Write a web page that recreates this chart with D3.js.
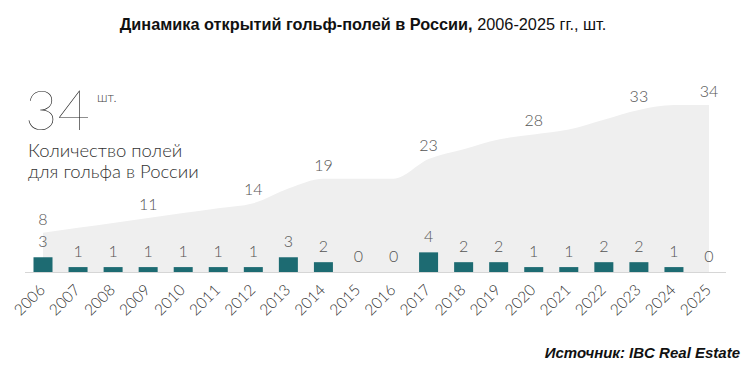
<!DOCTYPE html>
<html>
<head>
<meta charset="utf-8">
<script src="https://cdn.jsdelivr.net/npm/d3@7"></script>
<style>
  body { margin: 0; background: #fff; }
  svg text { font-family: "Lato", "Open Sans", sans-serif; }
</style>
</head>
<body>
<div id="chart"></div>
<script>
// data
const years = ["2006","2007","2008","2009","2010","2011","2012","2013","2014","2015",
               "2016","2017","2018","2019","2020","2021","2022","2023","2024","2025"];
const opened = [3,1,1,1,1,1,1,3,2,0,0,4,2,2,1,1,2,2,1,0];
const total = [8,9,10,11,12,13,14,17,19,19,19,23,25,27,28,29,31,33,34,34];
const totalLabelYears = ["2006","2009","2012","2014","2017","2020","2023","2025"];

const width = 743, height = 371;
const axisY = 272;

const svg = d3.select("#chart")
    .append("svg")
    .attr("width", width)
    .attr("height", height);

const x = d3.scalePoint()
    .domain(years)
    .range([43, 709]);

const y = d3.scaleLinear()
    .domain([0, 34])
    .range([axisY, 105]);

const barW = 19;

// Title
const title = svg.append("text")
    .attr("x", 363)
    .attr("y", 30)
    .attr("text-anchor", "middle")
    .style("font-family", "'Liberation Sans', Arial, sans-serif")
    .style("font-size", "16.3px")
    .attr("fill", "#111");
title.append("tspan").style("font-weight", "bold").text("Динамика открытий гольф-полей в России,");
title.append("tspan").text(" 2006-2025 гг., шт.");

// cumulative area
const areaData = years.map((yr, i) => ({ year: yr, v: total[i] }));
svg.append("path")
    .datum(areaData)
    .attr("fill", "#efefef")
    .attr("d", d3.area()
        .x(d => x(d.year))
        .y0(axisY)
        .y1(d => y(d.v))
        .curve(d3.curveMonotoneX));

// baseline
svg.append("line")
    .attr("x1", 25).attr("x2", 726)
    .attr("y1", axisY + 0.5).attr("y2", axisY + 0.5)
    .attr("stroke", "#d6d6d6");

// cumulative labels
svg.selectAll(".tot-label")
    .data(areaData.filter(d => totalLabelYears.includes(d.year)))
    .enter()
    .append("text")
    .attr("class", "tot-label")
    .attr("x", d => x(d.year))
    .attr("y", d => y(d.v) - 8)
    .attr("text-anchor", "middle")
    .style("font-size", "16px")
    .style("font-weight", 300)
    .attr("fill", "#555")
    .text(d => d.v);

// bars
const barData = years.map((yr, i) => ({ year: yr, v: opened[i] }));
svg.selectAll(".bar")
    .data(barData)
    .enter()
    .append("rect")
    .attr("class", "bar")
    .attr("x", d => x(d.year) - barW / 2)
    .attr("y", d => y(d.v))
    .attr("width", barW)
    .attr("height", d => axisY - y(d.v))
    .attr("fill", "#1d6b72");

svg.selectAll(".bar-label")
    .data(barData)
    .enter()
    .append("text")
    .attr("class", "bar-label")
    .attr("x", d => x(d.year))
    .attr("y", d => y(d.v) - 10)
    .attr("text-anchor", "middle")
    .style("font-size", "16px")
    .style("font-weight", 300)
    .attr("fill", "#555")
    .text(d => d.v);

// year labels
svg.selectAll(".year")
    .data(years)
    .enter()
    .append("text")
    .attr("class", "year")
    .attr("transform", d => `translate(${x(d) + 3},291)rotate(-45)`)
    .attr("text-anchor", "end")
    .style("font-size", "15.5px")
    .style("font-weight", 300)
    .attr("fill", "#333")
    .text(d => d);

// big number
svg.append("text")
    .attr("x", 25)
    .attr("y", 130)
    .style("font-size", "56px")
    .style("font-weight", 200)
    .attr("fill", "#222")
    .text("34");
svg.append("text")
    .attr("x", 97)
    .attr("y", 102)
    .style("font-size", "13px")
    .style("font-weight", 300)
    .attr("fill", "#444")
    .text("шт.");

svg.append("text")
    .attr("x", 28)
    .attr("y", 157)
    .style("font-size", "18.5px")
    .style("font-weight", 300)
    .attr("fill", "#333")
    .text("Количество полей");
svg.append("text")
    .attr("x", 28)
    .attr("y", 178)
    .style("font-size", "18.5px")
    .style("font-weight", 300)
    .attr("fill", "#333")
    .text("для гольфа в России");

// source
svg.append("text")
    .attr("x", 740)
    .attr("y", 358)
    .attr("text-anchor", "end")
    .style("font-family", "'Liberation Sans', Arial, sans-serif")
    .style("font-size", "15px")
    .style("font-weight", "bold")
    .style("font-style", "italic")
    .attr("fill", "#111")
    .text("Источник: IBC Real Estate");
</script>
</body>
</html>
